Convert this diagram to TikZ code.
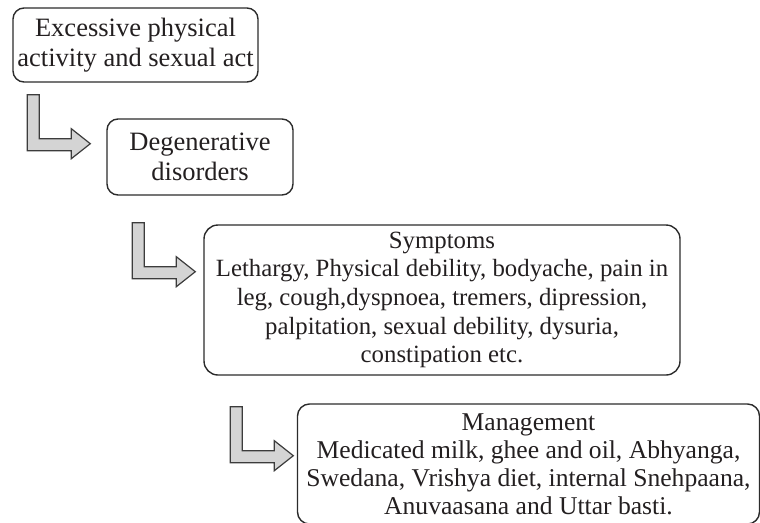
\documentclass[tikz,border=0pt]{standalone}
\usepackage{fontspec}
\setmainfont{Liberation Serif}
\usetikzlibrary{calc}
\definecolor{ink}{HTML}{231F20}
\definecolor{edge}{HTML}{2B2B2B}
\definecolor{arrowfill}{HTML}{D4D4D4}
\definecolor{arrowedge}{HTML}{3C3C3C}
\tikzset{
  flowbox/.style={draw=edge, line width=1.4pt, rounded corners=11pt,
    align=center, inner sep=0pt, text=ink},
  bigtext/.style={font=\fontsize{26.5}{30}\selectfont},
  smalltext/.style={font=\fontsize{24.8}{28.6}\selectfont},
  mgmttext/.style={font=\fontsize{25.6}{28}\selectfont},
  pics/bendarrow/.style={code={
    \draw[fill=arrowfill, draw=arrowedge, line width=1.2pt, line join=miter]
      (0,0) -- (12,0) -- (12,44) -- (44,44) -- (44,34) -- (63,49)
      -- (44,64) -- (44,56) -- (0,56) -- cycle;
  }}
}
\begin{document}
\begin{tikzpicture}[x=1pt, y=-1pt]
\useasboundingbox (0,0) rectangle (760,522);
\clip (0,0) rectangle (760,522);

% cause
\node[flowbox, bigtext, minimum width=245pt, minimum height=74pt] (cause) at (135.5,45)
  {Excessive physical\\activity and sexual act};
% result
\node[flowbox, bigtext, minimum width=186pt, minimum height=76pt] (degen) at (200,157)
  {Degenerative\\disorders};
% symptoms
\node[flowbox, smalltext, minimum width=476pt, minimum height=150pt, rounded corners=14pt] (symp) at (442,300)
  {Symptoms\\Lethargy, Physical debility, bodyache, pain in\\leg, cough,dyspnoea, tremers, dipression,\\palpitation, sexual debility, dysuria,\\constipation etc.};
% management (runs past the right and bottom edges)
\node[flowbox, mgmttext, minimum width=462pt, minimum height=120pt, rounded corners=12pt] (mgmt) at (528.5,464)
  {Management\\Medicated milk, ghee and oil, Abhyanga,\\Swedana, Vrishya diet, internal Snehpaana,\\Anuvaasana and Uttar basti.};

% bent block arrows between the stages
\coordinate (a1) at ($(cause.south west)+(15,12)$);
\coordinate (a2) at ($(degen.south west)+(26,27)$);
\coordinate (a3) at ($(symp.south west)+(27,31)$);
\pic at (a1) {bendarrow};
\pic at (a2) {bendarrow};
\pic at (a3) {bendarrow};
\end{tikzpicture}
\end{document}
